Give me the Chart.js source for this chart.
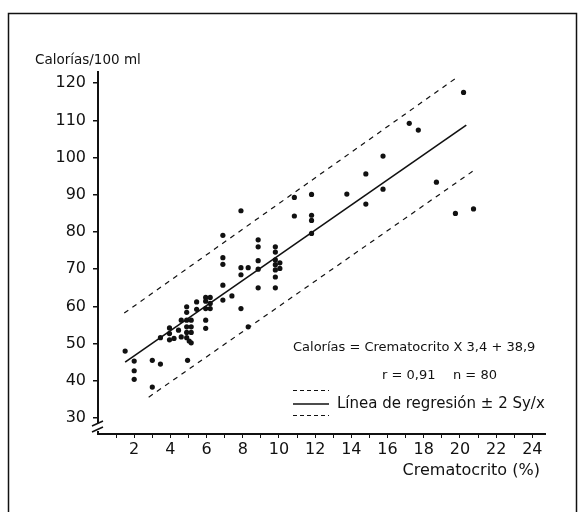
<!DOCTYPE html>
<html>
<head>
<meta charset="utf-8">
<script src="https://cdn.jsdelivr.net/npm/chart.js@4/dist/chart.umd.min.js"></script>
<style>
  html, body { margin: 0; padding: 0; background: #fff; }
  canvas { display: block; }
</style>
</head>
<body>
<canvas id="grafico" width="586" height="512"></canvas>
<script>
// valores (crematocrito %, calorias/100 ml), n = 80
var crematocrito = [
  1.5,
  2.0, 2.0, 2.0,
  3.0, 3.0,
  3.45, 3.45,
  3.95, 3.95, 3.95, 4.2,
  4.45, 4.6, 4.6,
  4.9, 4.9, 4.9, 4.9, 4.9, 4.9, 5.04, 4.95,
  5.15, 5.15, 5.15, 5.15,
  5.45, 5.45,
  5.95, 5.95, 6.2, 6.2, 5.95, 6.2, 5.95, 5.95,
  6.9, 6.9, 6.9, 6.9, 6.9,
  7.4,
  7.9, 7.9, 7.9, 7.9,
  8.3, 8.3,
  8.85, 8.85, 8.85, 8.85, 8.85,
  9.8, 9.8, 9.8, 9.8, 9.8, 9.8, 9.8,
  10.05, 10.05,
  10.85, 10.85,
  11.8, 11.8, 11.8, 11.8,
  13.75,
  14.8, 14.8,
  15.75, 15.75,
  17.2, 17.7, 18.7, 19.75, 20.2, 20.75
];
var calorias = [
  48.0,
  45.3, 42.7, 40.4,
  45.5, 38.3,
  44.5, 51.6,
  54.2, 52.7, 51.0, 51.4,
  53.6, 51.8, 56.3,
  59.9, 58.4, 56.3, 54.5, 53.0, 51.6, 50.7, 45.5,
  56.3, 54.5, 53.0, 50.2,
  61.2, 59.2,
  62.4, 61.4, 62.4, 60.8, 59.4, 59.4, 56.3, 54.1,
  79.1, 73.1, 71.3, 65.7, 61.7,
  62.8,
  85.7, 70.4, 68.5, 59.4,
  70.4, 54.5,
  77.9, 76.0, 72.3, 70.0, 65.0,
  76.0, 74.6, 72.5, 71.2, 69.8, 67.9, 65.0,
  71.7, 70.2,
  89.3, 84.3,
  90.1, 84.5, 83.1, 79.6,
  90.2,
  95.6, 87.5,
  100.4, 91.5,
  109.2, 107.4, 93.4, 85.0, 117.5, 86.2
];

// recta de regresion y limites +-2 Sy/x (extremos)
var regresionX = [1.5, 20.35];
var regresionY = [45.0, 108.7];
var limiteSupX = [1.45, 19.85];
var limiteSupY = [58.2, 121.6];
var limiteInfX = [2.8, 20.7];
var limiteInfY = [35.6, 96.3];

var xTicks = [1, 2, 3, 4, 5, 6, 7, 8, 9, 10, 11, 12, 13, 14, 15, 16, 17, 18, 19, 20, 21, 22, 23, 24];
var yTicks = [30, 40, 50, 60, 70, 80, 90, 100, 110, 120];

function puntos(xs, ys) {
  return xs.map(function(x, i) { return { x: x, y: ys[i] }; });
}

var FUENTE = "'DejaVu Sans', sans-serif";

// marco, titulo del eje y, ecuacion y leyenda
var decoracion = {
  id: 'decoracion',
  beforeDraw: function(chart) {
    var ctx = chart.ctx;
    ctx.save();
    ctx.fillStyle = '#fff';
    ctx.fillRect(0, 0, chart.width, chart.height);
    ctx.strokeStyle = '#111';
    ctx.lineWidth = 1.5;
    ctx.strokeRect(8.5, 13.5, 568, 510);
    ctx.restore();
  },
  afterDraw: function(chart) {
    var ctx = chart.ctx;
    ctx.save();
    ctx.fillStyle = '#111';
    ctx.textBaseline = 'middle';
    ctx.font = '13.5px ' + FUENTE;
    ctx.fillText('Calorías/100 ml', 35, 60);

    ctx.font = '13px ' + FUENTE;
    ctx.fillText('Calorías = Crematocrito X 3,4 + 38,9', 293, 348);
    ctx.fillText('r = 0,91', 382, 376);
    ctx.fillText('n = 80', 453, 376);
    ctx.font = '15px ' + FUENTE;
    ctx.fillText('Línea de regresión ± 2 Sy/x', 337, 404);

    ctx.strokeStyle = '#111';
    ctx.lineWidth = 1;
    ctx.setLineDash([4, 3]);
    ctx.beginPath();
    ctx.moveTo(293, 390.5); ctx.lineTo(329, 390.5);
    ctx.moveTo(293, 415.5); ctx.lineTo(329, 415.5);
    ctx.stroke();
    ctx.setLineDash([]);
    ctx.lineWidth = 1.5;
    ctx.beginPath();
    ctx.moveTo(293, 404); ctx.lineTo(329, 404);
    ctx.stroke();

    // corte del eje y
    var y = chart.scales.y;
    var x0 = y.right;
    ctx.fillStyle = '#fff';
    ctx.fillRect(x0 - 3, 423, 6, 8);
    ctx.lineWidth = 1.5;
    ctx.beginPath();
    ctx.moveTo(x0 - 6, 426); ctx.lineTo(x0 + 5, 421);
    ctx.moveTo(x0 - 6, 432); ctx.lineTo(x0 + 5, 427);
    ctx.stroke();
    ctx.restore();
  }
};

var ctx = document.getElementById('grafico');
var grafico = new Chart(ctx, {
  type: 'scatter',
  data: {
    datasets: [{
      label: 'Datos',
      data: puntos(crematocrito, calorias),
      backgroundColor: '#111',
      borderColor: '#111',
      pointRadius: 2.6,
      pointBorderWidth: 0
    }, {
      label: 'Línea de regresión',
      data: puntos(regresionX, regresionY),
      showLine: true,
      borderColor: '#111',
      borderWidth: 1.6,
      pointRadius: 0
    }, {
      label: '+2 Sy/x',
      data: puntos(limiteSupX, limiteSupY),
      showLine: true,
      borderColor: '#111',
      borderWidth: 1.2,
      borderDash: [5, 5],
      pointRadius: 0
    }, {
      label: '-2 Sy/x',
      data: puntos(limiteInfX, limiteInfY),
      showLine: true,
      borderColor: '#111',
      borderWidth: 1.2,
      borderDash: [5, 5],
      pointRadius: 0
    }]
  },
  plugins: [decoracion],
  options: {
    responsive: false,
    animation: false,
    layout: { padding: { left: 0, right: 41, top: 72, bottom: 28 } },
    plugins: {
      legend: { display: false },
      tooltip: { enabled: false }
    },
    scales: {
      x: {
        type: 'linear',
        min: 0,
        max: 24.7,
        afterFit: function(scale) { scale.height = 50; },
        afterBuildTicks: function(scale) {
          scale.ticks = xTicks.map(function(v) { return { value: v }; });
        },
        border: { color: '#111', width: 2 },
        grid: { drawOnChartArea: false, color: '#111', tickLength: 4, lineWidth: 1 },
        ticks: {
          color: '#111',
          padding: 2,
          maxRotation: 0,
          autoSkip: false,
          font: { family: FUENTE, size: 16 },
          callback: function(v) { return v % 2 === 0 ? String(v) : ''; }
        },
        title: {
          display: true,
          text: 'Crematocrito (%)\u00a0',
          align: 'end',
          color: '#111',
          padding: { top: 0, bottom: 4 },
          font: { family: FUENTE, size: 16 }
        }
      },
      y: {
        type: 'linear',
        min: 25.7,
        max: 123,
        afterFit: function(scale) { scale.width = 98; },
        afterBuildTicks: function(scale) {
          scale.ticks = yTicks.map(function(v) { return { value: v }; });
        },
        border: { color: '#111', width: 2 },
        grid: { drawOnChartArea: false, color: '#111', tickLength: 5, lineWidth: 1.5 },
        ticks: {
          color: '#111',
          padding: 7,
          font: { family: FUENTE, size: 16 }
        }
      }
    }
  }
});
</script>
</body>
</html>
